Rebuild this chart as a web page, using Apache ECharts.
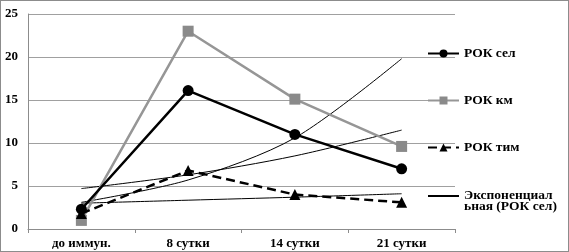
<!DOCTYPE html>
<html lang="ru">
<head>
  <meta charset="UTF-8">
  <title>РОК</title>
  <script src="https://cdn.jsdelivr.net/npm/echarts@6/dist/echarts.min.js"></script>
  <style>
    html, body { margin: 0; padding: 0; background: #fff; }
    #main { width: 567px; height: 250px; border: 1px solid #8c8c8c; }
  </style>
</head>
<body>
<div id="main"></div>
<script type="text/javascript">
  // категории и значения
  var days = ['до иммун.', '8 сутки', '14 сутки', '21 сутки'];
  var rokSel = [2.3, 16.1, 11.0, 7.0];
  var rokKm = [1.0, 23.0, 15.1, 9.6];
  var rokTim = [1.8, 6.8, 4.0, 3.1];
  // линии тренда
  var trendSel = [4.7, 6.3, 8.5, 11.5];
  var trendKm = [3.1, 5.7, 10.6, 19.8];
  var trendTim = [3.0, 3.35, 3.7, 4.1];

  var font = '"Liberation Serif", "Times New Roman", serif';
  var trendName = 'Экспоненциальная (РОК сел)';
  var legendText = { fontFamily: font, fontWeight: 'bold', fontSize: 13.5, color: '#000', lineHeight: 15 };
  var myChart = echarts.init(document.getElementById('main'));

  myChart.setOption({
    animation: false,
    textStyle: { fontFamily: font },
    grid: { left: 27, right: 113, top: 13, bottom: 22 },
    legend: [
      {
        orient: 'vertical',
        left: 426,
        top: 45,
        padding: 0,
        itemWidth: 31,
        itemHeight: 10,
        itemGap: 32,
        textStyle: legendText,
        data: ['РОК сел', 'РОК км', 'РОК тим']
      },
      {
        // значок стоит против первой строки подписи
        orient: 'vertical',
        left: 426,
        top: 177,
        padding: 0,
        itemWidth: 31,
        itemHeight: 10,
        textStyle: { fontFamily: font, fontWeight: 'bold', fontSize: 13.5, color: '#000', lineHeight: 11 },
        data: [{ name: trendName, itemStyle: { opacity: 0 } }],
        formatter: function () {
          return '\nЭкспоненциал\nьная (РОК сел)';
        }
      }
    ],
    xAxis: {
      type: 'category',
      data: days,
      axisLine: { lineStyle: { color: '#8c8c8c' } },
      axisTick: { show: true, length: 4, lineStyle: { color: '#8c8c8c' } },
      axisLabel: { fontFamily: font, fontWeight: 'bold', fontSize: 13, color: '#000', margin: 8 }
    },
    yAxis: {
      type: 'value',
      min: 0,
      max: 25,
      interval: 5,
      axisLine: { show: true, lineStyle: { color: '#8c8c8c' } },
      axisTick: { show: false },
      axisLabel: { fontFamily: font, fontWeight: 'bold', fontSize: 13, color: '#000', margin: 10 },
      splitLine: { lineStyle: { color: '#a0a0a0', width: 1 } }
    },
    series: [
      {
        name: 'РОК сел',
        type: 'line',
        data: rokSel,
        symbol: 'circle',
        symbolSize: 11,
        itemStyle: { color: '#000' },
        lineStyle: { color: '#000', width: 2.5 },
        z: 5
      },
      {
        name: 'РОК км',
        type: 'line',
        data: rokKm,
        symbol: 'rect',
        symbolSize: 11,
        itemStyle: { color: '#8a8a8a' },
        lineStyle: { color: '#969696', width: 2.5 },
        z: 4
      },
      {
        name: 'РОК тим',
        type: 'line',
        data: rokTim,
        symbol: 'triangle',
        symbolSize: 11,
        itemStyle: { color: '#000' },
        lineStyle: { color: '#000', width: 2.5, type: [9, 5] },
        z: 5
      },
      {
        name: trendName,
        type: 'line',
        data: trendSel,
        smooth: 0.3,
        symbol: 'none',
        itemStyle: { color: '#000' },
        lineStyle: { color: '#000', width: 1 },
        z: 3
      },
      {
        name: 'Экспоненциальная (РОК км)',
        type: 'line',
        data: trendKm,
        smooth: 0.3,
        symbol: 'none',
        lineStyle: { color: '#000', width: 1 },
        z: 3
      },
      {
        name: 'Экспоненциальная (РОК тим)',
        type: 'line',
        data: trendTim,
        smooth: 0.3,
        symbol: 'none',
        lineStyle: { color: '#000', width: 1 },
        z: 3
      }
    ]
  });
</script>
</body>
</html>
